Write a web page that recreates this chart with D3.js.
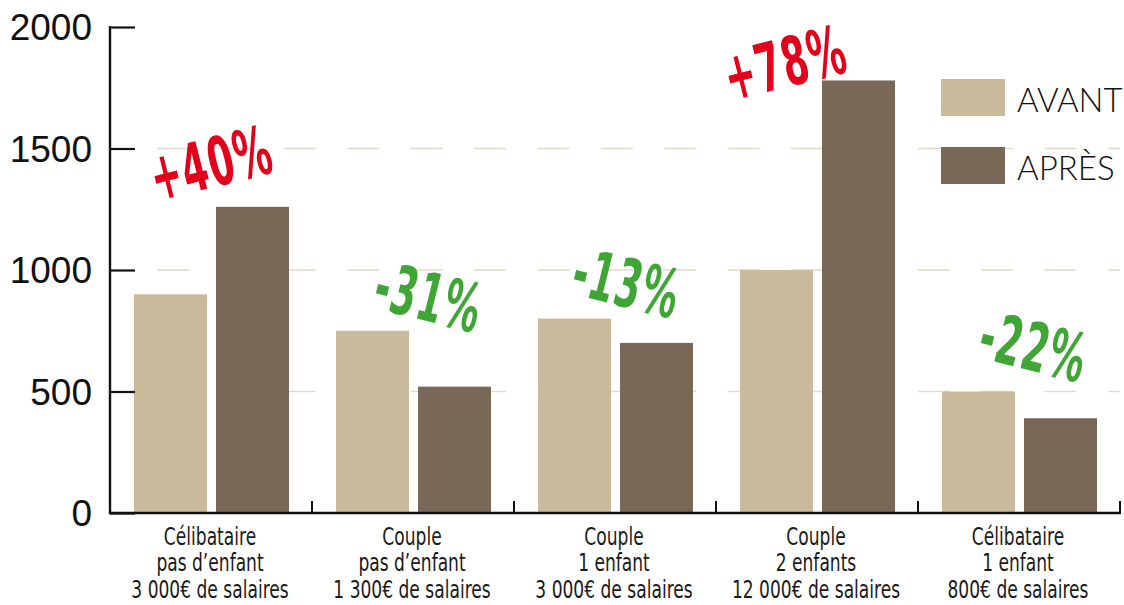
<!DOCTYPE html>
<html>
<head>
<meta charset="utf-8">
<script src="https://cdn.jsdelivr.net/npm/d3@7"></script>
<style>
  body { margin: 0; background: #fff; }
  #canvas { position: relative; }
</style>
</head>
<body>
<div id="canvas"></div>
<script>
// categories (one label line per entry)
var categories = [
    ["Célibataire", "pas d\u2019enfant", "3 000€ de salaires"],
    ["Couple", "pas d\u2019enfant", "1 300€ de salaires"],
    ["Couple", "1 enfant", "3 000€ de salaires"],
    ["Couple", "2 enfants", "12 000€ de salaires"],
    ["Célibataire", "1 enfant", "800€ de salaires"]
]
var avant = [900, 750, 800, 1000, 500]
var apres = [1260, 520, 700, 1780, 390]
var changes = ["+40%", "-31%", "-13%", "+78%", "-22%"]
var yTicks = [0, 500, 1000, 1500, 2000]
var seriesNames = ["AVANT", "APRÈS"]

var width = 1124
var height = 605
var plotLeft = 110
var plotRight = 1120
var plotTop = 27
var plotBottom = 513

var colors = { "AVANT": "#c9ba9b", "APRÈS": "#7a6856" }

// where the % stamps sit, relative to group centre / tallest bar
var stampShift = [[0, -44], [16, -34], [12, -36], [-32, -18], [15, -45]]

var svg = d3.select("#canvas")
    .append("svg")
    .attr("width", width)
    .attr("height", height)

var x0 = d3.scaleBand().domain(d3.range(categories.length)).range([plotLeft, plotRight])
var x1 = d3.scaleBand().domain(seriesNames).range([24, 179]).paddingInner(0.11)
var yScale = d3.scaleLinear().domain([0, 2000]).range([plotBottom, plotTop])

// dashed grid
svg.append("g")
    .selectAll("line")
    .data(yTicks.filter(function (d) { return d > 0 && d < 2000 }))
    .enter()
    .append("line")
    .attr("x1", 157)
    .attr("x2", plotRight)
    .attr("y1", function (d) { return yScale(d) })
    .attr("y2", function (d) { return yScale(d) })
    .attr("stroke", "#e3dacb")
    .attr("stroke-width", 1.6)
    .attr("stroke-dasharray", "32,31.4")

// bars
var rows = categories.map(function (c, i) {
    return { i: i, values: [{ key: "AVANT", v: avant[i] }, { key: "APRÈS", v: apres[i] }] }
})

var groups = svg.selectAll(".grp")
    .data(rows)
    .enter()
    .append("g")
    .attr("class", "grp")
    .attr("transform", function (d) { return "translate(" + x0(d.i) + ",0)" })

groups.selectAll("rect")
    .data(function (d) { return d.values })
    .enter()
    .append("rect")
    .attr("x", function (d) { return x1(d.key) })
    .attr("width", x1.bandwidth())
    .attr("y", function (d) { return yScale(d.v) })
    .attr("height", function (d) { return plotBottom - yScale(d.v) })
    .attr("fill", function (d) { return colors[d.key] })

// y axis
var yAxis = svg.append("g")
    .attr("transform", "translate(" + plotLeft + ",0)")
    .call(d3.axisRight(yScale).tickValues(yTicks).tickSize(25).tickFormat(""))
yAxis.select(".domain").remove()
yAxis.selectAll("line").attr("stroke", "#111").attr("stroke-width", 2.2)

svg.append("line")
    .attr("x1", plotLeft).attr("x2", plotLeft)
    .attr("y1", plotTop - 1).attr("y2", plotBottom + 1)
    .attr("stroke", "#111").attr("stroke-width", 2.4)

svg.append("g")
    .selectAll("text")
    .data(yTicks)
    .enter()
    .append("text")
    .attr("x", 92)
    .attr("y", function (d) { return yScale(d) })
    .attr("dy", "0.36em")
    .attr("text-anchor", "end")
    .style("font-family", "'Liberation Sans', Arial, sans-serif")
    .style("font-size", "37px")
    .attr("fill", "#111")
    .text(function (d) { return d })

// x axis
svg.append("line")
    .attr("x1", plotLeft - 1).attr("x2", plotRight + 1)
    .attr("y1", plotBottom).attr("y2", plotBottom)
    .attr("stroke", "#111").attr("stroke-width", 2.4)

svg.append("g")
    .selectAll("line")
    .data(d3.range(categories.length))
    .enter()
    .append("line")
    .attr("x1", function (d) { return x0(d) + x0.bandwidth() })
    .attr("x2", function (d) { return x0(d) + x0.bandwidth() })
    .attr("y1", plotBottom)
    .attr("y2", plotBottom - 12)
    .attr("stroke", "#111").attr("stroke-width", 2)

var catLabels = svg.append("g")
    .selectAll("text")
    .data(rows)
    .enter()
    .append("text")
    .attr("text-anchor", "middle")
    .attr("transform", function (d) { return "translate(" + (x0(d.i) + x0.bandwidth() / 2 - 1) + ",0) scale(0.76,1)" })
    .style("font-family", "'Liberation Sans Narrow', 'DejaVu Sans Condensed', sans-serif")
    .style("font-stretch", "condensed")
    .style("font-size", "25px")
    .attr("fill", "#1a1a1a")

catLabels.selectAll("tspan")
    .data(function (d) { return categories[d.i] })
    .enter()
    .append("tspan")
    .attr("x", 0)
    .attr("y", function (d, j) { return 545 + j * 26.5 })
    .text(function (d) { return d })

// legend
var legend = svg.append("g").attr("transform", "translate(941,79)")
var legendEntry = legend.selectAll(".legendEntry")
    .data(seriesNames)
    .enter()
    .append("g")
    .attr("transform", function (d, i) { return "translate(0," + i * 68 + ")" })
legendEntry.append("rect")
    .attr("width", 64)
    .attr("height", 37)
    .attr("fill", function (d) { return colors[d] })
legendEntry.append("text")
    .attr("x", 76)
    .attr("y", 33)
    .style("font-family", "Lato, 'Open Sans', sans-serif")
    .style("font-weight", 300)
    .style("font-size", "33px")
    .attr("fill", "#111")
    .text(function (d) { return d })

// % change stamps
var stamps = svg.append("g")
    .selectAll("g")
    .data(rows)
    .enter()
    .append("g")
    .attr("transform", function (d) {
        var up = apres[d.i] >= avant[d.i]
        var cx = x0(d.i) + x0.bandwidth() / 2 + stampShift[d.i][0]
        var cy = yScale(Math.max(avant[d.i], apres[d.i])) + stampShift[d.i][1]
        return "translate(" + cx + "," + cy + ") rotate(" + (up ? -14 : 14) + ")"
    })

stamps.append("text")
    .attr("text-anchor", "middle")
    .attr("dy", "0.36em")
    .attr("transform", "scale(0.68,1.12)")
    .style("font-family", "'DejaVu Sans Condensed', 'DejaVu Sans', sans-serif")
    .style("font-weight", "bold")
    .style("font-size", "60px")
    .style("letter-spacing", "2px")
    .attr("fill", function (d) { return apres[d.i] >= avant[d.i] ? "#e2001a" : "#3fa535" })
    .text(function (d) { return changes[d.i] })
</script>
</body>
</html>
